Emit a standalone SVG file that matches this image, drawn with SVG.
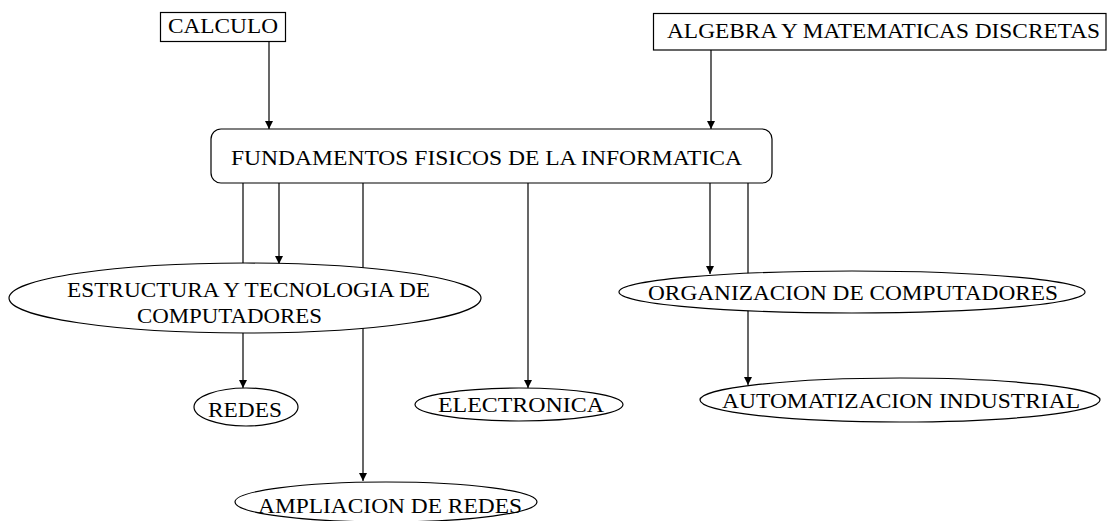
<svg xmlns="http://www.w3.org/2000/svg" width="1107" height="521" viewBox="0 0 1107 521">
<style>
.box{fill:#fff;stroke:#000;stroke-width:1.2}
.ell{fill:#fff;stroke:#000;stroke-width:1.2}
.con{fill:none;stroke:#000;stroke-width:1.2}
.t{font-family:"Liberation Serif","Times New Roman",serif;font-size:21px;fill:#000}
</style>
<defs>
<marker id="arr" markerUnits="userSpaceOnUse" markerWidth="9" markerHeight="8" refX="8" refY="4" orient="auto">
<path d="M0,0 L8,4 L0,8 z" fill="#000"/>
</marker>
</defs>
<rect width="1107" height="521" fill="#fff"/>
<g id="connectors">
<line class="con" x1="269" y1="41" x2="269" y2="129" marker-end="url(#arr)"/>
<line class="con" x1="711" y1="50" x2="711" y2="129" marker-end="url(#arr)"/>
<line class="con" x1="243" y1="183" x2="243" y2="388" marker-end="url(#arr)"/>
<line class="con" x1="279" y1="183" x2="279" y2="264" marker-end="url(#arr)"/>
<line class="con" x1="363" y1="183" x2="363" y2="481" marker-end="url(#arr)"/>
<line class="con" x1="528" y1="183" x2="528" y2="388" marker-end="url(#arr)"/>
<line class="con" x1="710" y1="183" x2="710" y2="274" marker-end="url(#arr)"/>
<line class="con" x1="748" y1="183" x2="748" y2="385" marker-end="url(#arr)"/>
</g>
<g id="calculo">
<rect class="box" x="160.5" y="12.5" width="125" height="29"/>
<text class="t" x="168" y="33" textLength="110" lengthAdjust="spacingAndGlyphs">CALCULO</text>
</g>
<g id="algebra">
<rect class="box" x="653.5" y="13.5" width="452.5" height="36.5"/>
<text class="t" x="667" y="38" textLength="433" lengthAdjust="spacingAndGlyphs">ALGEBRA Y MATEMATICAS DISCRETAS</text>
</g>
<g id="fundamentos">
<rect class="box" x="211" y="129" width="561" height="54" rx="10" ry="10"/>
<text class="t" x="231" y="165" textLength="511" lengthAdjust="spacingAndGlyphs">FUNDAMENTOS FISICOS DE LA INFORMATICA</text>
</g>
<g id="estructura">
<ellipse class="ell" cx="245" cy="298" rx="236" ry="35"/>
<text class="t" x="67" y="297" textLength="363" lengthAdjust="spacingAndGlyphs">ESTRUCTURA Y TECNOLOGIA DE</text>
<text class="t" x="137" y="323" textLength="185" lengthAdjust="spacingAndGlyphs">COMPUTADORES</text>
</g>
<g id="organizacion">
<ellipse class="ell" cx="852" cy="292" rx="233" ry="21"/>
<text class="t" x="648" y="300" textLength="410" lengthAdjust="spacingAndGlyphs">ORGANIZACION DE COMPUTADORES</text>
</g>
<g id="redes">
<ellipse class="ell" cx="246" cy="407" rx="52" ry="19"/>
<text class="t" x="208" y="417" textLength="74" lengthAdjust="spacingAndGlyphs">REDES</text>
</g>
<g id="electronica">
<ellipse class="ell" cx="519" cy="404.5" rx="104" ry="16.5"/>
<text class="t" x="438" y="412" textLength="166" lengthAdjust="spacingAndGlyphs">ELECTRONICA</text>
</g>
<g id="automatizacion">
<ellipse class="ell" cx="900" cy="400" rx="200" ry="22"/>
<text class="t" x="722" y="408" textLength="358" lengthAdjust="spacingAndGlyphs">AUTOMATIZACION INDUSTRIAL</text>
</g>
<g id="ampliacion">
<ellipse class="ell" cx="386" cy="502" rx="151" ry="20"/>
<text class="t" x="258" y="513" textLength="264" lengthAdjust="spacingAndGlyphs">AMPLIACION DE REDES</text>
</g>
</svg>
